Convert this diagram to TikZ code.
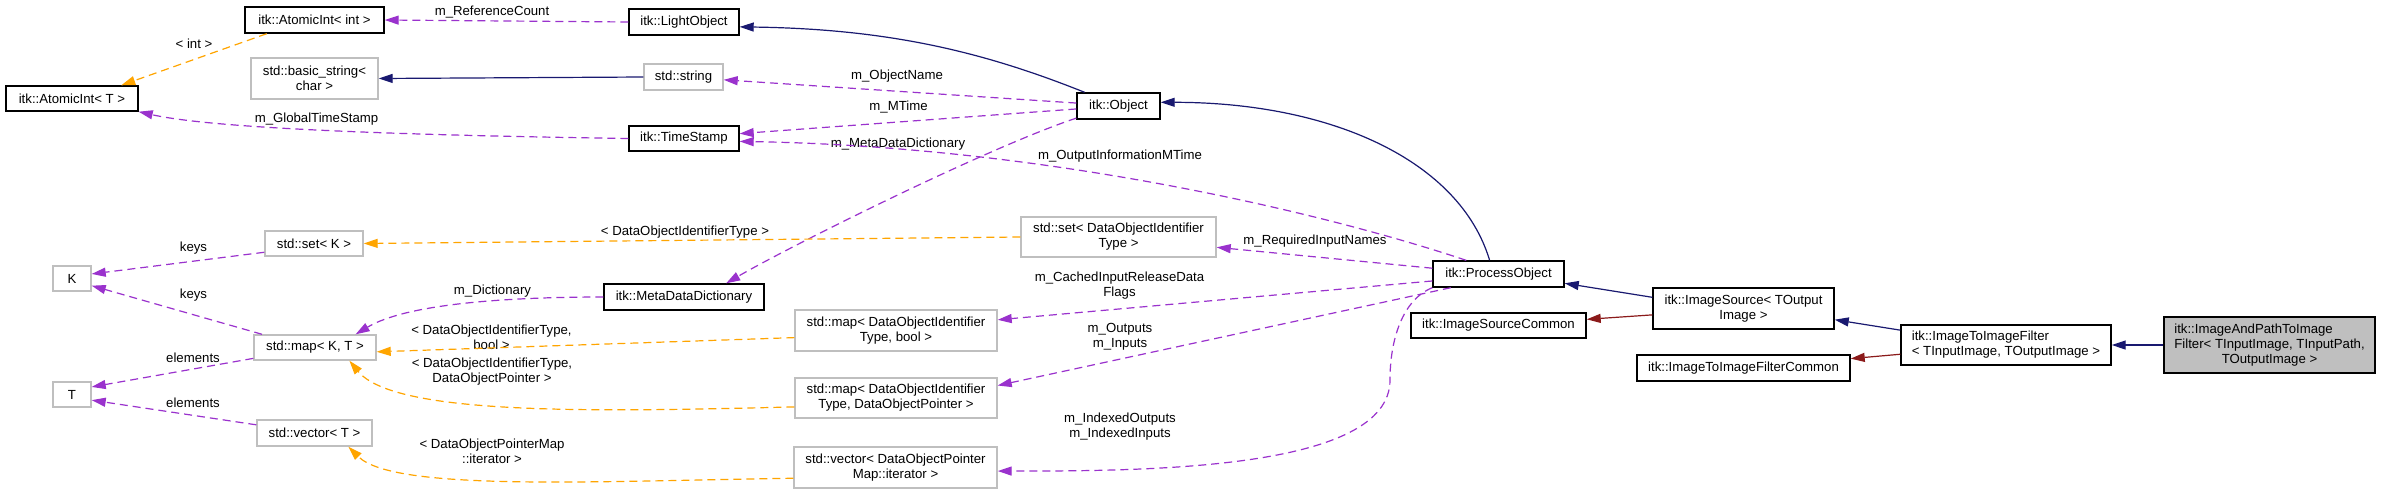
\documentclass[tikz,border=0pt]{standalone}
\usepackage{fontspec}
\setmainfont{Liberation Sans}
\usepackage{calc}
\usetikzlibrary{arrows.meta}
\definecolor{inhblue}{HTML}{191970}
\definecolor{usepurple}{HTML}{9A32CD}
\definecolor{tmplorange}{HTML}{FFA500}
\definecolor{privred}{HTML}{8B1A1A}
\definecolor{extgray}{HTML}{BFBFBF}
\tikzset{
	dox/.style={font=\fontsize{6.6}{7.5}\selectfont, inner sep=0pt, align=center},
	boxsz/.style 2 args={minimum width=#1*0.5pt, minimum height=#2*0.5pt},
	cls/.style={dox, draw=black, fill=white, line width=0.7pt},
	extcls/.style={dox, draw=extgray, fill=white, line width=0.7pt},
	maincls/.style={dox, draw=black, fill=extgray, line width=0.7pt},
	lbl/.style={dox},
	arrowed/.style={-{Triangle[length=7pt,width=4.5pt]}, line width=0.6pt},
	pubinh/.style={arrowed, draw=inhblue},
	privinh/.style={arrowed, draw=privred},
	usage/.style={arrowed, draw=usepurple, dash pattern=on 4pt off 2.5pt},
	tmpl/.style={arrowed, draw=tmplorange, dash pattern=on 4pt off 2.5pt},
}

\begin{document}
\begin{tikzpicture}[x=0.5pt, y=-0.5pt]
	\fill[white] (0,0) rectangle (2381,493);
	\useasboundingbox (0,0) rectangle (2381,493);

	%CLASSES
	\node[cls, boxsz={139}{26}] (aiInt) at (314.5,20) {itk::AtomicInt< int >};
	\node[cls, boxsz={110}{26}] (lightObj) at (684,22) {itk::LightObject};
	\node[extcls, boxsz={127}{41}] (basicStr) at (314.5,78.5) {std::basic\_string<\\char >};
	\node[extcls, boxsz={79}{26}] (stdStr) at (683.5,77) {std::string};
	\node[cls, boxsz={132}{25}] (aiT) at (72,98.5) {itk::AtomicInt< T >};
	\node[cls, boxsz={110}{25}] (timeStamp) at (684,138.5) {itk::TimeStamp};
	\node[extcls, boxsz={98}{25}] (setK) at (314,243.5) {std::set< K >};
	\node[extcls, boxsz={38}{25}] (K) at (72,278.5) {K};
	\node[cls, boxsz={160}{26}] (metaDict) at (684,297) {itk::MetaDataDictionary};
	\node[extcls, boxsz={122}{25}] (mapKT) at (315,347.5) {std::map< K, T >};
	\node[extcls, boxsz={38}{25}] (T) at (72,394.5) {T};
	\node[extcls, boxsz={115}{26}] (vecT) at (314.5,433) {std::vector< T >};
	\node[cls, boxsz={83}{26}] (object) at (1118.5,106) {itk::Object};
	\node[extcls, boxsz={195}{40}] (setDOI) at (1118.5,237) {std::set< DataObjectIdentifier\\Type >};
	\node[extcls, boxsz={202}{41}] (mapBool) at (896,330.5) {std::map< DataObjectIdentifier\\Type, bool >};
	\node[extcls, boxsz={202}{40}] (mapDOP) at (896,398) {std::map< DataObjectIdentifier\\Type, DataObjectPointer >};
	\node[extcls, boxsz={203}{41}] (vecDOP) at (895.5,467.5) {std::vector< DataObjectPointer\\Map::iterator >};
	\node[cls, boxsz={131}{26}] (procObj) at (1498.5,274) {itk::ProcessObject};
	\node[cls, boxsz={175}{25}] (isCommon) at (1498.5,325.5) {itk::ImageSourceCommon};
	\node[cls, boxsz={181}{41}] (imgSource) at (1743.5,308.5) {itk::ImageSource< TOutput\\Image >};
	\node[cls, boxsz={213}{26}] (filterCommon) at (1743.5,368) {itk::ImageToImageFilterCommon};
	\node[cls, boxsz={210}{40}] (i2iFilter) at (2006,345) {\makebox[\widthof{< TInputImage, TOutputImage >}][l]{itk::ImageToImageFilter}\\< TInputImage, TOutputImage >};
	\node[maincls, boxsz={211}{56}] (mainCls) at (2269.5,345) {\makebox[\widthof{Filter< TInputImage, TInputPath,}][l]{itk::ImageAndPathToImage}\\Filter< TInputImage, TInputPath,\\TOutputImage >};

	%LABELS
	\node[lbl] (lRefCount) at (492,12) {m\_ReferenceCount};
	\node[lbl] (lInt) at (194,44) {< int >};
	\node[lbl] (lGlobal) at (316.5,119) {m\_GlobalTimeStamp};
	\node[lbl] (lSetTmpl) at (685,232) {< DataObjectIdentifierType >};
	\node[lbl] (lKeysA) at (193.5,248) {keys};
	\node[lbl] (lKeysB) at (193.5,295) {keys};
	\node[lbl] (lDict) at (492.5,291) {m\_Dictionary};
	\node[lbl] (lMapBool) at (491.5,337) {< DataObjectIdentifierType,\\bool >};
	\node[lbl] (lElemA) at (193,358) {elements};
	\node[lbl] (lMapDOP) at (492,372) {< DataObjectIdentifierType,\\DataObjectPointer >};
	\node[lbl] (lElemB) at (193,403) {elements};
	\node[lbl] (lVecDOP) at (492,451) {< DataObjectPointerMap\\::iterator >};
	\node[lbl] (lObjName) at (897,76) {m\_ObjectName};
	\node[lbl] (lMTime) at (898.5,107) {m\_MTime};
	\node[lbl] (lMetaDict) at (898,144) {m\_MetaDataDictionary};
	\node[lbl] (lOutInfo) at (1120,156) {m\_OutputInformationMTime};
	\node[lbl] (lReqNames) at (1315,241) {m\_RequiredInputNames};
	\node[lbl] (lCached) at (1119.5,286) {m\_CachedInputReleaseData\\Flags};
	\node[lbl] (lInOut) at (1120,336.5) {m\_Outputs\\m\_Inputs};
	\node[lbl] (lIndexed) at (1120,427) {m\_IndexedOutputs\\m\_IndexedInputs};

	\coordinate (idxBend) at (1390,380);

	%LINES
	\draw[usage] (lightObj.west) -- (aiInt.east);
	\draw[tmpl] (aiInt.196) -- (aiT.15);
	\draw[pubinh] (object.158) .. controls +(-100,-40) and +(150,2) .. (lightObj.-5);
	\draw[pubinh] (stdStr.west) -- (basicStr.east);
	\draw[usage] (object.176) -- (stdStr.-4);
	\draw[usage] (object.184) -- (timeStamp.5);
	\draw[usage] (procObj.157) .. controls +(-150,-50) and +(300,5) .. (timeStamp.-3);
	\draw[usage] (timeStamp.west) .. controls +(-200,-3) and +(80,18) .. (aiT.south east);
	\draw[usage] (object.196) .. controls +(-90,30) and +(60,-35) .. (metaDict.18);
	\draw[usage] (metaDict.west) .. controls +(-100,0) and +(50,-30) .. (mapKT.18);
	\draw[usage] (setK.190) -- (K.13);
	\draw[usage] (mapKT.166) -- (K.-20);
	\draw[usage] (mapKT.190) -- (T.21);
	\draw[usage] (vecT.172) -- (T.-16);
	\draw[tmpl] (setDOI.west) -- (setK.east);
	\draw[tmpl] (mapBool.184) -- (mapKT.-4);
	\draw[tmpl] (mapDOP.185) .. controls +(-200,5) and +(45,55) .. (mapKT.-21);
	\draw[tmpl] (vecDOP.186) .. controls +(-200,3) and +(45,45) .. (vecT.-22);
	\draw[pubinh] (procObj.123) .. controls +(-30,-100) and +(170,0) .. (object.5);
	\draw[usage] (procObj.175) -- (setDOI.-6);
	\draw[usage] (procObj.186) -- (mapBool.6);
	\draw[usage] (procObj.196) -- (mapDOP.7);
	\draw[usage] (procObj.south west) .. controls +(-30,12) and +(0,-40) .. (idxBend)
		.. controls +(0,90) and +(150,0) .. (vecDOP.-2);
	\draw[pubinh] (imgSource.173) -- (procObj.-8);
	\draw[privinh] (imgSource.184) -- (isCommon.4);
	\draw[pubinh] (i2iFilter.172) -- (imgSource.-7);
	\draw[privinh] (i2iFilter.185) -- (filterCommon.5);
	\draw[pubinh] (mainCls.west) -- (i2iFilter.east);
\end{tikzpicture}
\end{document}
